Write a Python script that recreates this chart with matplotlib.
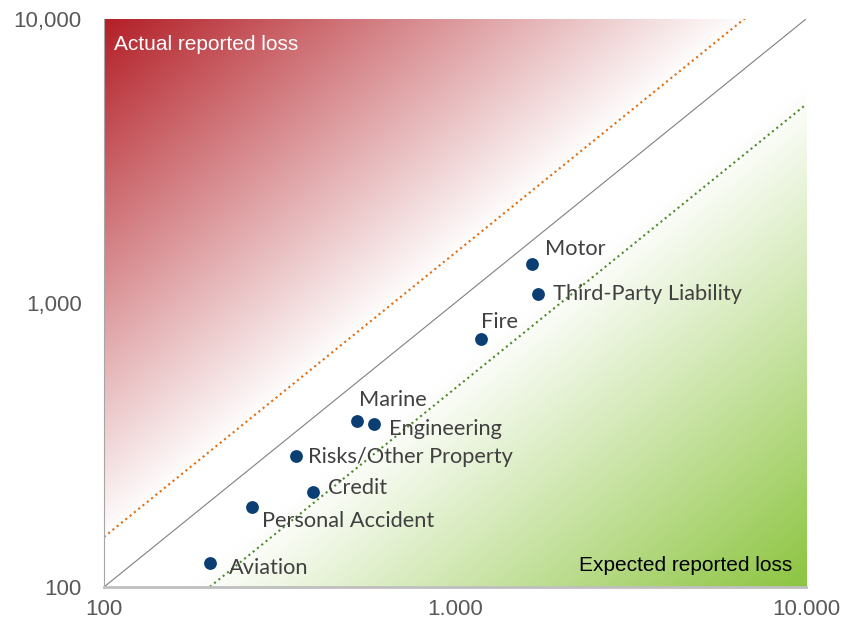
import numpy as np
import matplotlib.pyplot as plt

# expected vs actual reported loss by line of business
lines = ['Motor', 'Third-Party Liability', 'Fire', 'Marine', 'Engineering',
         'Risks/Other Property', 'Credit', 'Personal Accident', 'Aviation']
expected = [1656, 1724, 1186, 526, 588, 352, 394, 264, 200]
actual = [1371, 1076, 747, 384, 375, 289, 216, 191, 121]

# label offsets in pixels (dx, dy) relative to each point
offsets = [(13, 15), (15, 0), (0, 17), (2, 21), (15, -5),
           (12, -1), (15, 4), (10, -14), (19, -5)]

ratio_lines = [1.5, 1.0, 0.5]
x_ticks = [100, 1000, 10000]
x_ticklabels = ['100', '1.000', '10.000']
y_ticks = [100, 1000, 10000]
y_ticklabels = ['100', '1,000', '10,000']

fig = plt.figure(figsize=(8.44, 6.24), dpi=100)
ax = fig.add_axes([0.1232, 0.0593, 0.8318, 0.9103])
ax.set_xscale('log')
ax.set_yscale('log')

# red / green background gradients
n = 400
u, v = np.meshgrid(np.linspace(0, 1, n), np.linspace(1, 0, n))
red_w = np.clip((v - u - 0.08) / 0.92, 0, 1)
green_w = np.clip((u - v - 0.12) / 0.88, 0, 1)
red = np.array([0.70, 0.12, 0.15])
green = np.array([0.55, 0.77, 0.25])
img = np.ones((n, n, 3))
img = img * (1 - red_w[..., None]) + red * red_w[..., None]
img = img * (1 - green_w[..., None]) + green * green_w[..., None]
ax.imshow(img, extent=[0, 1, 0, 1], transform=ax.transAxes,
          aspect='auto', zorder=0, interpolation='bilinear')

xs = np.array([100, 10000])
styles = {1.5: dict(color='#E36C0A', ls=':', lw=1.5),
          1.0: dict(color='#808080', ls='-', lw=0.8),
          0.5: dict(color='#4F8A2B', ls=':', lw=1.5)}
for r in ratio_lines:
    ax.plot(xs, xs * r, zorder=2, **styles[r])

ax.scatter(expected, actual, s=85, color='#0B3F73', zorder=3, linewidths=0)
for name, x, y, (dx, dy) in zip(lines, expected, actual, offsets):
    ax.annotate(name, (x, y), xytext=(dx, dy), textcoords='offset pixels',
                ha='left', va='center', fontsize=15.7, family='Lato',
                color='#404040', zorder=4)

ax.text(0.014, 0.955, 'Actual reported loss', transform=ax.transAxes,
        color='white', fontsize=15, family='Liberation Sans', va='center')
ax.text(0.98, 0.038, 'Expected reported loss', transform=ax.transAxes,
        color='black', fontsize=15, family='Liberation Sans', va='center', ha='right')

ax.set_xlim(100, 10000)
ax.set_ylim(100, 10000)
ax.set_xticks(x_ticks)
ax.set_xticklabels(x_ticklabels)
ax.set_yticks(y_ticks)
ax.set_yticklabels(y_ticklabels)
ax.minorticks_off()
ax.tick_params(length=0, labelsize=16, labelcolor='#595959')
ax.tick_params(axis='x', pad=9)
ax.tick_params(axis='y', pad=16)
for lab in ax.get_xticklabels() + ax.get_yticklabels():
    lab.set_family('Liberation Sans')

for s in ['top', 'right']:
    ax.spines[s].set_visible(False)
ax.spines['left'].set_color('#A6A6A6')
ax.spines['left'].set_linewidth(0.8)
ax.spines['bottom'].set_color('#BFBFBF')
ax.spines['bottom'].set_linewidth(2)

fig.savefig('out.png', dpi=100)
